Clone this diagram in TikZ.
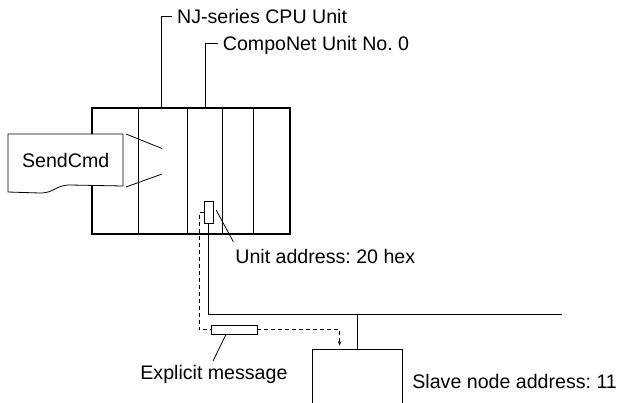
\documentclass[tikz,border=0pt]{standalone}
\usepackage{fontspec}
\setmainfont{Liberation Sans}
\usetikzlibrary{arrows.meta}

\begin{document}
\begin{tikzpicture}[x=1bp, y=-1bp, line width=0.8bp,
  every node/.style={inner sep=0pt, font=\fontsize{19.6bp}{23bp}\selectfont\frenchspacing},
  box/.style={draw, fill=white},
  msgline/.style={dash pattern=on 4bp off 3bp}]
  % page size of the reference (pixel grid, y down)
  \useasboundingbox (0,0) rectangle (619,402);
  \clip (0,0) rectangle (619,402);

  % PLC rack and its slots
  \node[box, line width=1.5bp, minimum width=198bp, minimum height=126bp] (plc) at (191,171) {};
  \foreach \x in {138,187,222,253}
    \draw (\x,0 |- plc.north) -- (\x,0 |- plc.south);

  % port of the CompoNet unit
  \node[box, minimum width=8.7bp, minimum height=21.6bp] (port) at (208.7,212.5) {};

  % SendCmd sheet in front of the rack
  \draw[fill=white] (8,134) -- (123,134) -- (123,186) -- (70,185)
    .. controls (55,185) and (55,193) .. (40,193) -- (8,192) -- cycle;
  \node[anchor=base west] (cmd) at (21.7,167) {SendCmd};
  \coordinate (cmdtop) at (126,134);
  \coordinate (cmdbot) at (126,187);
  \draw (cmdtop) -- (162,148.5);
  \draw (cmdbot) -- (162,174);

  % labels above the rack
  \node[anchor=base west] (cpu) at (176.7,23) {NJ-series CPU Unit};
  \node[anchor=base west] (unit) at (222.5,50) {CompoNet Unit No. 0};
  \draw (161,0 |- plc.north) |- ([xshift=-5bp,yshift=7bp]cpu.base west);
  \draw (205,0 |- plc.north) |- ([xshift=-5bp,yshift=7bp]unit.base west);

  % unit address
  \node[anchor=base west] (addr) at (235,263) {Unit address: 20 hex};
  \draw ([xshift=2.7bp,yshift=2.5bp]port.east) -- ([xshift=-1.7bp,yshift=21.3bp]addr.base west);

  % CompoNet cable and slave
  \node[box, minimum width=90bp, minimum height=56bp] (slave) at (357,377) {};
  \node[anchor=base west] (slavelbl) at (412,388) {Slave node address: 11};
  \coordinate (busend) at (562,314);
  \draw (port.south) |- (busend);
  \draw (slave.north) -- (slave.north |- busend);

  % explicit message
  \node[box, minimum width=46bp, minimum height=9bp] (msg) at (234,329.5) {};
  \node[anchor=base west] (expl) at (140,379) {Explicit message};
  \draw ([xshift=-8bp]msg.south) -- ([xshift=73bp,yshift=18bp]expl.base west);
  \coordinate (msgin) at (199,212.5);
  \coordinate (msgout) at ([xshift=28bp,yshift=3bp]slave.north west);
  \draw[msgline] (port.west) -- (msgin) |- (msg.west);
  \draw[msgline, -{Stealth[length=4.5bp,width=3.5bp]}] (msg.east) -| (msgout);
\end{tikzpicture}
\end{document}
